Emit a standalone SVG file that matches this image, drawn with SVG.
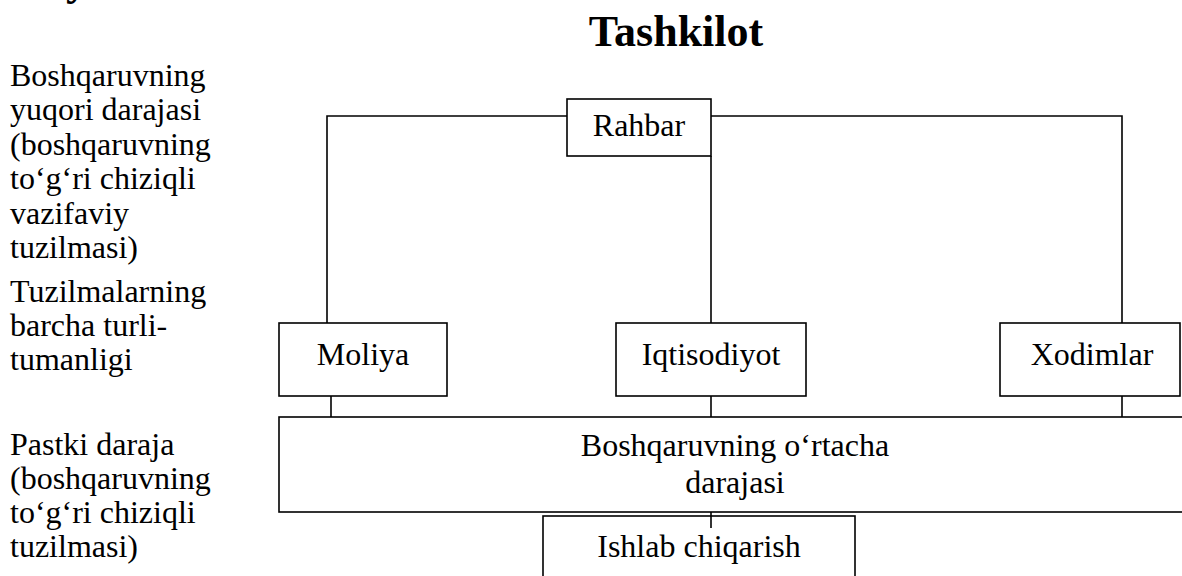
<svg xmlns="http://www.w3.org/2000/svg" width="1182" height="576" viewBox="0 0 1182 576">
  <style>
    text { font-family: "Liberation Serif", "Times New Roman", serif; fill: #000; }
    .side { font-size: 32px; }
    .lbl { font-size: 32px; text-anchor: middle; }
    .title { font-size: 44px; font-weight: bold; text-anchor: middle; }
    .box { fill: #fff; stroke: #000; stroke-width: 1.6; }
    .wire { fill: none; stroke: #000; stroke-width: 1.6; }
  </style>
  <rect width="1182" height="576" fill="#fff"/>

  <!-- tail of the heading line above, cut by the page edge -->
  <text x="66" y="-5" style="font-size:44px;font-weight:bold">y</text>

  <text class="title" x="676" y="46">Tashkilot</text>

  <!-- level descriptions on the left -->
  <g id="levels">
    <text class="side" x="10" y="86">Boshqaruvning</text>
    <text class="side" x="10" y="120">yuqori darajasi</text>
    <text class="side" x="10" y="155">(boshqaruvning</text>
    <text class="side" x="10" y="189">to‘g‘ri chiziqli</text>
    <text class="side" x="10" y="224">vazifaviy</text>
    <text class="side" x="10" y="258">tuzilmasi)</text>
    <text class="side" x="10" y="302">Tuzilmalarning</text>
    <text class="side" x="10" y="336">barcha turli-</text>
    <text class="side" x="10" y="370">tumanligi</text>
    <text class="side" x="10" y="455">Pastki daraja</text>
    <text class="side" x="10" y="489">(boshqaruvning</text>
    <text class="side" x="10" y="523">to‘g‘ri chiziqli</text>
    <text class="side" x="10" y="557">tuzilmasi)</text>
  </g>

  <!-- connectors -->
  <g id="connectors">
    <path class="wire" d="M327,323 V116 H567"/>
    <path class="wire" d="M711,116 H1122 V323"/>
    <path class="wire" d="M711,156 V323"/>
    <path class="wire" d="M331,396 V417"/>
    <path class="wire" d="M711,396 V417"/>
    <path class="wire" d="M1122,396 V417"/>
  </g>

  <g id="rahbar">
    <rect class="box" x="567" y="99" width="144" height="57"/>
    <text class="lbl" x="639" y="136">Rahbar</text>
  </g>

  <g id="moliya">
    <rect class="box" x="279" y="323" width="168" height="73"/>
    <text class="lbl" x="363" y="365">Moliya</text>
  </g>

  <g id="iqtisodiyot">
    <rect class="box" x="616" y="323" width="190" height="73"/>
    <text class="lbl" x="711" y="365">Iqtisodiyot</text>
  </g>

  <g id="xodimlar">
    <rect class="box" x="1000" y="323" width="180" height="73"/>
    <text class="lbl" x="1092" y="365">Xodimlar</text>
  </g>

  <g id="orta-daraja">
    <rect class="box" x="279" y="417" width="920" height="95"/>
    <text class="lbl" x="735" y="456">Boshqaruvning o‘rtacha</text>
    <text class="lbl" x="735" y="493">darajasi</text>
  </g>

  <g id="ishlab-chiqarish">
    <rect class="box" x="543" y="516" width="312" height="80"/>
    <text class="lbl" x="699" y="557">Ishlab chiqarish</text>
  </g>

  <!-- link from the middle level down into production -->
  <path class="wire" d="M711,512 V528"/>
</svg>
